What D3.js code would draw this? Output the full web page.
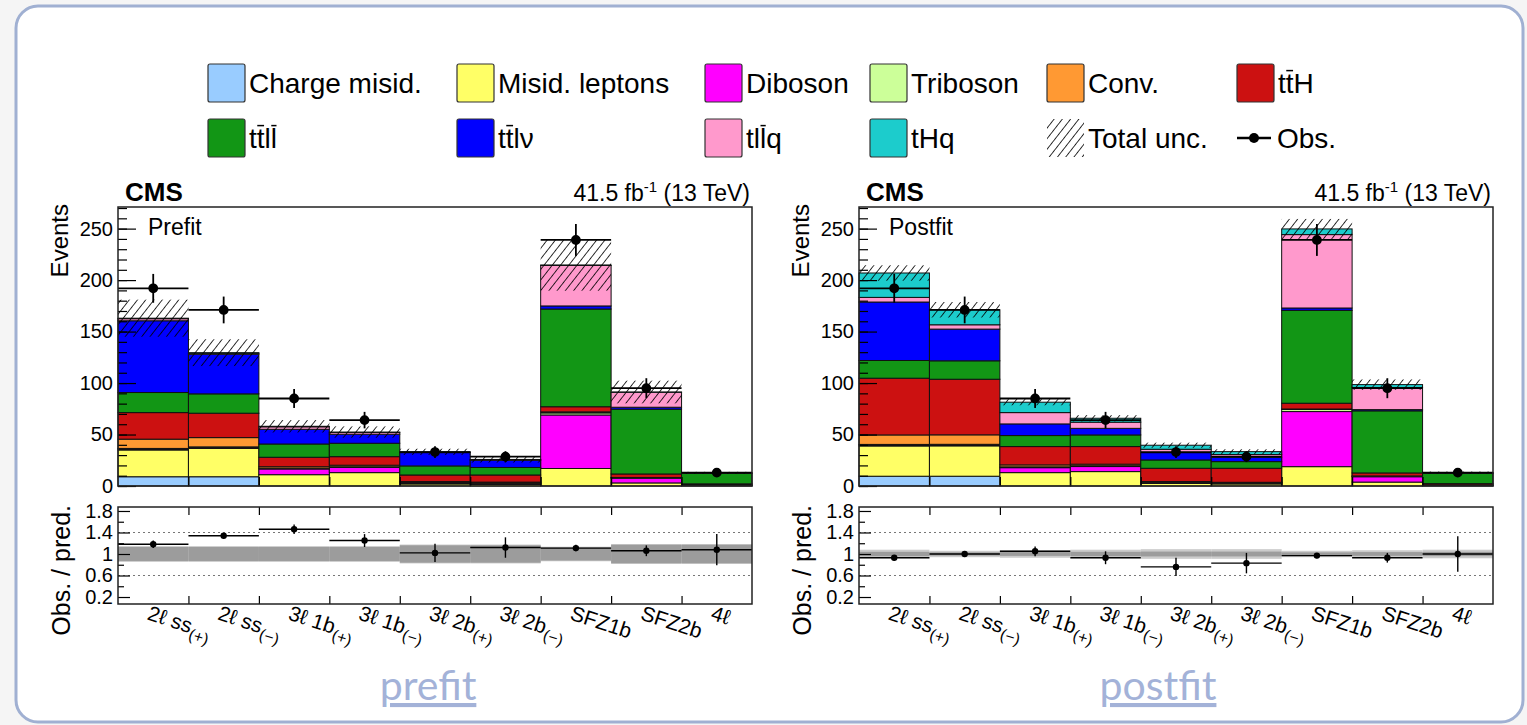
<!DOCTYPE html>
<html>
<head>
<meta charset="utf-8">
<script src="https://d3js.org/d3.v7.min.js"></script>
<style>
  body { margin: 0; background: #f5f5f5; }
  svg text { font-family: "Liberation Sans", Arial, Helvetica, sans-serif; fill: #000; }
  .link { font-family: Lato, "Open Sans", sans-serif; fill: #a3b2d8; }
</style>
</head>
<body>
<svg id="chart" width="1527" height="725"></svg>
<script>
// categories (bins)
const categories = ["2ℓ ss", "2ℓ ss", "3ℓ 1b", "3ℓ 1b", "3ℓ 2b", "3ℓ 2b", "SFZ1b", "SFZ2b", "4ℓ"];
const categorySubs = ["(+)", "(−)", "(+)", "(−)", "(+)", "(−)", "", "", ""];

// processes, bottom to top of the stack
const processLabels = ["Charge misid.", "Misid. leptons", "Diboson", "Triboson", "Conv.", "ttH", "ttll", "ttlν", "tllq", "tHq"];
const processBars = [[], [], [], [], [], [1], [1, 3], [1], [2], []];
const processColors = ["#99ccff", "#ffff66", "#ff00ff", "#ccff99", "#ff9933", "#cc1111", "#129615", "#0000ff", "#ff99cc", "#1ccccc"];

// prefit yields
const preChargeMisid = [9, 9, 0, 0, 0, 0, 0, 0, 0];
const preMisidLeptons = [26, 27.5, 11, 13, 2, 1.5, 17, 3, 0.3];
const preDiboson = [1, 1, 5.5, 5, 1, 1, 52, 4.5, 0.5];
const preTriboson = [0.5, 0.5, 0.7, 0.7, 0.3, 0.3, 2, 0.5, 0.3];
const preConv = [9, 9, 1.5, 1.5, 1, 1, 1, 0.3, 0];
const preTTH = [25.8, 23.7, 9.2, 8.3, 6.4, 6.9, 5, 3.4, 1];
const preTTLL = [19.5, 18.8, 12.9, 13, 8.8, 7.3, 94.9, 62.9, 10.2];
const preTTLV = [69.7, 38.5, 14.3, 8.8, 12.9, 7, 3, 1.9, 0.2];
const preTLLQ = [2, 1, 2.4, 1.7, 0.5, 0.5, 39.3, 14.5, 0.2];
const preTHQ = [0.5, 0.5, 0.5, 0.4, 0.3, 0.3, 0.5, 0.3, 0.05];
const preUnc = [18, 13, 6, 5.5, 3, 3, 25, 11, 1];

// postfit yields
const postChargeMisid = [9.5, 9.5, 0, 0, 0, 0, 0, 0, 0];
const postMisidLeptons = [29.4, 29.5, 13, 14, 2.5, 2, 18.8, 3.8, 0.3];
const postDiboson = [1, 1, 4.8, 4.9, 1, 0.8, 53.5, 5.2, 0.5];
const postTriboson = [0.5, 0.5, 0.8, 0.8, 0.3, 0.3, 2, 0.5, 0.3];
const postConv = [9.2, 9.2, 1.9, 1.5, 0.5, 0.5, 0.5, 0.3, 0];
const postTTH = [55.1, 54, 17.8, 17.1, 12.9, 13.6, 5.6, 2.9, 1.2];
const postTTLL = [17.2, 17.9, 10.7, 11.3, 8.1, 6.5, 90.2, 60.3, 10];
const postTTLV = [56.8, 30.8, 11.3, 6.4, 7.1, 4.2, 2.3, 1.2, 0.2];
const postTLLQ = [4.5, 4.2, 11, 6, 3.3, 2.7, 71.3, 21.5, 0.3];
const postTHQ = [23.7, 14.6, 10.1, 3.8, 3.9, 2.8, 5.5, 2.8, 0.2];
const postUnc = [7.5, 7.5, 3, 3, 2.5, 2.3, 9.7, 5, 1];

// observed
const obs = [192, 171, 85, 64, 33, 28.5, 239, 95, 13];
const obsErr = [14, 13, 9.2, 8, 5.7, 5.3, 15.5, 9.7, 3.6];

// ratio panels
const preRatio = [1.18, 1.34, 1.46, 1.25, 1.02, 1.12, 1.11, 1.06, 1.08];
const preRatioErr = [0.07, 0.05, 0.09, 0.12, 0.17, 0.19, 0.06, 0.1, 0.29];
const preBand = [0.13, 0.13, 0.13, 0.13, 0.16, 0.16, 0.12, 0.17, 0.17];
const postRatio = [0.93, 1.0, 1.05, 0.93, 0.76, 0.83, 0.97, 0.93, 1.0];
const postRatioErr = [0.05, 0.05, 0.09, 0.12, 0.17, 0.19, 0.05, 0.09, 0.33];
const postBandOuter = [0.08, 0.06, 0.07, 0.08, 0.09, 0.09, 0.06, 0.07, 0.08];
const postBandInner = [0.04, 0.03, 0.035, 0.04, 0.045, 0.045, 0.03, 0.035, 0.04];

const yTicks = [0, 50, 100, 150, 200, 250];
const ratioTicks = [0.2, 0.6, 1, 1.4, 1.8];

const svg = d3.select("#chart");
const defs = svg.append("defs");
defs.append("pattern")
  .attr("id", "hatch")
  .attr("patternUnits", "userSpaceOnUse")
  .attr("width", 6.5).attr("height", 8)
  .attr("patternTransform", "rotate(38)")
  .append("line")
  .attr("x1", 0).attr("y1", 0).attr("x2", 0).attr("y2", 8)
  .attr("stroke", "#000").attr("stroke-width", 1.6);

// card
svg.append("rect")
  .attr("x", 16).attr("y", 6).attr("width", 1507).attr("height", 716)
  .attr("rx", 22)
  .attr("fill", "#fff").attr("stroke", "#a0b0d2").attr("stroke-width", 3);

// text with bars over some letters
function barText(g, x, y, str, bars, size) {
  const t = g.append("text").attr("x", x).attr("y", y)
    .attr("font-size", size).text(str);
  bars.forEach(i => {
    const a = t.node().getStartPositionOfChar(i).x;
    const b = t.node().getEndPositionOfChar(i).x;
    g.append("line")
      .attr("x1", a + 0.5).attr("x2", b - 0.5)
      .attr("y1", y - size * 0.8).attr("y2", y - size * 0.8)
      .attr("stroke", "#000").attr("stroke-width", 1.5);
  });
  return t;
}

// legend
const legendCols = [208, 457, 705, 870, 1047, 1237];
const legendRows = [64, 119];
const legend = svg.append("g");
const boxW = 37, boxH = 38, legendFont = 28;
processLabels.forEach((name, i) => {
  const cx = legendCols[i % 6], cy = legendRows[Math.floor(i / 6)];
  legend.append("rect")
    .attr("x", cx).attr("y", cy).attr("width", boxW).attr("height", boxH)
    .attr("rx", 2)
    .attr("fill", processColors[i]).attr("stroke", "#333").attr("stroke-width", 1.2);
  barText(legend, cx + boxW + 4, cy + boxH / 2 + 10, name, processBars[i], legendFont);
});
// total unc.
legend.append("rect")
  .attr("x", legendCols[4]).attr("y", legendRows[1]).attr("width", boxW).attr("height", boxH)
  .attr("fill", "url(#hatch)");
legend.append("text")
  .attr("x", legendCols[4] + boxW + 4).attr("y", legendRows[1] + boxH / 2 + 10)
  .attr("font-size", legendFont).text("Total unc.");
// obs.
legend.append("line")
  .attr("x1", legendCols[5]).attr("x2", legendCols[5] + 34)
  .attr("y1", legendRows[1] + boxH / 2).attr("y2", legendRows[1] + boxH / 2)
  .attr("stroke", "#000").attr("stroke-width", 2.5);
legend.append("circle")
  .attr("cx", legendCols[5] + 17).attr("cy", legendRows[1] + boxH / 2).attr("r", 5);
legend.append("text")
  .attr("x", legendCols[5] + 40).attr("y", legendRows[1] + boxH / 2 + 10)
  .attr("font-size", legendFont).text("Obs.");

function drawPanel(opt) {
  const left = opt.left, width = 634;
  const g = svg.append("g");
  const x = d3.scaleLinear().domain([0, 9]).range([left, left + width]);
  const y = d3.scaleLinear().domain([0, 271]).range([486, 207]);
  const yr = d3.scaleLinear().domain([0.07, 1.874]).range([604, 507]);

  // stacked yields
  const keys = processLabels.map((d, i) => "p" + i);
  const rows = d3.range(9).map(i => {
    const r = {};
    keys.forEach((k, j) => { r[k] = opt.series[j][i]; });
    return r;
  });
  const layers = d3.stack().keys(keys)(rows);
  layers.forEach((layer, j) => {
    g.append("g").selectAll("rect")
      .data(layer.map((d, i) => ({ d, i })).filter(e => e.d[1] > e.d[0]))
      .join("rect")
      .attr("x", e => x(e.i))
      .attr("width", e => x(e.i + 1) - x(e.i))
      .attr("y", e => y(e.d[1]))
      .attr("height", e => y(e.d[0]) - y(e.d[1]))
      .attr("fill", processColors[j])
      .attr("stroke", "#111").attr("stroke-width", 1);
  });
  const totals = rows.map(r => d3.sum(keys, k => r[k]));

  // total uncertainty
  g.append("g").selectAll("rect")
    .data(totals)
    .join("rect")
    .attr("x", (d, i) => x(i))
    .attr("width", (d, i) => x(i + 1) - x(i))
    .attr("y", (d, i) => y(d + opt.unc[i]))
    .attr("height", (d, i) => y(d - opt.unc[i]) - y(d + opt.unc[i]))
    .attr("fill", "url(#hatch)");

  // observed
  const og = g.append("g").attr("stroke", "#000").attr("stroke-width", 1.8);
  obs.forEach((v, i) => {
    og.append("line").attr("x1", x(i)).attr("x2", x(i + 1)).attr("y1", y(v)).attr("y2", y(v));
    og.append("line").attr("x1", x(i + 0.5)).attr("x2", x(i + 0.5))
      .attr("y1", y(v - obsErr[i])).attr("y2", y(v + obsErr[i]));
    og.append("circle").attr("cx", x(i + 0.5)).attr("cy", y(v)).attr("r", 4).attr("fill", "#000");
  });

  // axes, main
  const ax = g.append("g").attr("transform", `translate(${left},0)`);
  ax.call(d3.axisLeft(y).tickValues(yTicks).tickSize(-18).tickPadding(5));
  ax.append("g").call(d3.axisLeft(y).tickValues(d3.range(0, 271, 10)).tickSize(-9).tickFormat(""));
  ax.selectAll(".domain").remove();
  ax.selectAll("line").attr("stroke", "#000").attr("stroke-width", 1.2);
  ax.selectAll("text").attr("font-size", 20).attr("font-family", "Liberation Sans, Arial, sans-serif");
  const bx = g.append("g").attr("transform", "translate(0,486)")
    .call(d3.axisBottom(x).tickValues(d3.range(1, 9)).tickSize(-9).tickFormat(""));
  bx.select(".domain").remove();
  bx.selectAll("line").attr("stroke", "#000").attr("stroke-width", 1.2);

  g.append("rect")
    .attr("x", left).attr("y", 207).attr("width", width).attr("height", 279)
    .attr("fill", "none").attr("stroke", "#222").attr("stroke-width", 1.5);

  g.append("text").attr("x", left + 7).attr("y", 201)
    .attr("font-size", 26).attr("font-weight", "bold").text("CMS");
  const lumi = g.append("text").attr("x", left + width - 2).attr("y", 201)
    .attr("text-anchor", "end").attr("font-size", 23);
  lumi.append("tspan").text("41.5 fb");
  lumi.append("tspan").attr("dy", -9).attr("font-size", 15).text("-1");
  lumi.append("tspan").attr("dy", 9).text(" (13 TeV)");
  g.append("text").attr("x", left + 30).attr("y", 235)
    .attr("font-size", 23).text(opt.label);
  g.append("text")
    .attr("transform", `translate(${left - 50},204) rotate(-90)`)
    .attr("text-anchor", "end").attr("font-size", 24).text("Events");

  // ratio panel
  const rg = g.append("g");
  if (opt.bandInner) {
    rg.selectAll("rect.outer").data(opt.bandOuter).join("rect")
      .attr("x", (d, i) => x(i)).attr("width", (d, i) => x(i + 1) - x(i))
      .attr("y", d => yr(1 + d)).attr("height", d => yr(1 - d) - yr(1 + d))
      .attr("fill", "#cbcbcb");
    rg.selectAll("rect.inner").data(opt.bandInner).join("rect")
      .attr("x", (d, i) => x(i)).attr("width", (d, i) => x(i + 1) - x(i))
      .attr("y", d => yr(1 + d)).attr("height", d => yr(1 - d) - yr(1 + d))
      .attr("fill", "#9c9c9c");
  } else {
    rg.selectAll("rect.outer").data(opt.bandOuter).join("rect")
      .attr("x", (d, i) => x(i)).attr("width", (d, i) => x(i + 1) - x(i))
      .attr("y", d => yr(1 + d + 0.015)).attr("height", d => yr(1 - d - 0.015) - yr(1 + d + 0.015))
      .attr("fill", "#c4c4c4");
    rg.selectAll("rect.inner").data(opt.bandOuter).join("rect")
      .attr("x", (d, i) => x(i)).attr("width", (d, i) => x(i + 1) - x(i))
      .attr("y", d => yr(1 + d)).attr("height", d => yr(1 - d) - yr(1 + d))
      .attr("fill", "#9c9c9c");
  }
  [0.6, 1.4].forEach(v => {
    rg.append("line").attr("x1", left).attr("x2", left + width)
      .attr("y1", yr(v)).attr("y2", yr(v))
      .attr("stroke", "#777").attr("stroke-width", 1.2).attr("stroke-dasharray", "2,3");
  });
  const rog = rg.append("g").attr("stroke", "#000").attr("stroke-width", 1.4);
  opt.ratio.forEach((v, i) => {
    rog.append("line").attr("x1", x(i)).attr("x2", x(i + 1)).attr("y1", yr(v)).attr("y2", yr(v));
    rog.append("line").attr("x1", x(i + 0.5)).attr("x2", x(i + 0.5))
      .attr("y1", yr(v - opt.ratioErr[i])).attr("y2", yr(v + opt.ratioErr[i]));
    rog.append("circle").attr("cx", x(i + 0.5)).attr("cy", yr(v)).attr("r", 2.5).attr("fill", "#000");
  });

  const rax = rg.append("g").attr("transform", `translate(${left},0)`);
  rax.call(d3.axisLeft(yr).tickValues(ratioTicks).tickSize(-12).tickPadding(5)
    .tickFormat(d => d === 1 ? "1" : d3.format(".1f")(d)));
  rax.append("g").call(d3.axisLeft(yr).tickValues([0.4, 0.8, 1.2, 1.6]).tickSize(-6).tickFormat(""));
  rax.selectAll(".domain").remove();
  rax.selectAll("line").attr("stroke", "#000").attr("stroke-width", 1.2);
  rax.selectAll("text").attr("font-size", 20).attr("font-family", "Liberation Sans, Arial, sans-serif");
  const rbx = rg.append("g").attr("transform", "translate(0,604)")
    .call(d3.axisBottom(x).tickValues(d3.range(1, 9)).tickSize(-8).tickFormat(""));
  const rtx = rg.append("g").attr("transform", "translate(0,507)")
    .call(d3.axisTop(x).tickValues(d3.range(1, 9)).tickSize(-8).tickFormat(""));
  [rbx, rtx].forEach(a => {
    a.select(".domain").remove();
    a.selectAll("line").attr("stroke", "#000").attr("stroke-width", 1.2);
  });
  rg.append("rect")
    .attr("x", left).attr("y", 507).attr("width", width).attr("height", 97)
    .attr("fill", "none").attr("stroke", "#222").attr("stroke-width", 1.5);
  rg.append("text")
    .attr("transform", `translate(${left - 48},505) rotate(-90)`)
    .attr("text-anchor", "end").attr("font-size", 25).text("Obs. / pred.");

  // category labels
  categories.forEach((c, i) => {
    const t = rg.append("text")
      .attr("transform", `translate(${x(i + 0.5) - 2},604) rotate(18)`)
      .attr("x", 0).attr("y", 16).attr("font-size", 21);
    t.append("tspan").text(c);
    if (categorySubs[i]) t.append("tspan").attr("dy", 6).attr("font-size", 16).text(categorySubs[i]);
  });

  svg.append("text").attr("class", "link")
    .attr("x", opt.linkX).attr("y", 700).attr("text-anchor", "middle")
    .attr("font-size", 41).attr("text-decoration", "underline")
    .text(opt.link);
}

drawPanel({
  left: 118, label: "Prefit", link: "prefit", linkX: 428,
  series: [preChargeMisid, preMisidLeptons, preDiboson, preTriboson, preConv, preTTH, preTTLL, preTTLV, preTLLQ, preTHQ],
  unc: preUnc, ratio: preRatio, ratioErr: preRatioErr, bandOuter: preBand
});
drawPanel({
  left: 859, label: "Postfit", link: "postfit", linkX: 1158,
  series: [postChargeMisid, postMisidLeptons, postDiboson, postTriboson, postConv, postTTH, postTTLL, postTTLV, postTLLQ, postTHQ],
  unc: postUnc, ratio: postRatio, ratioErr: postRatioErr, bandOuter: postBandOuter, bandInner: postBandInner
});
</script>
</body>
</html>
